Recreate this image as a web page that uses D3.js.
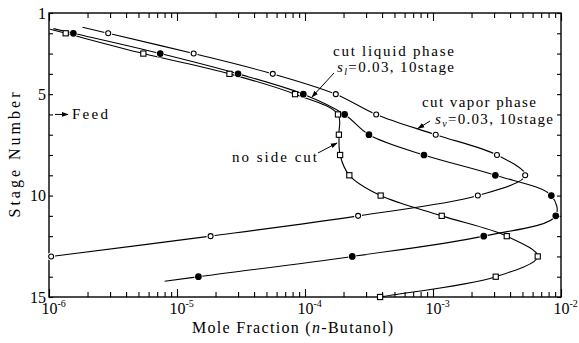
<!DOCTYPE html>
<html>
<head>
<meta charset="utf-8">
<script src="https://cdn.jsdelivr.net/npm/d3@7"></script>
<style>
  body { margin: 0; background: #fff; }
  svg { display: block; font-family: "Liberation Serif", "DejaVu Serif", serif; }
</style>
</head>
<body>
<div id="chart"></div>
<script>
// stage numbers and n-butanol mole fractions
let vapor_stage = [2, 3, 4, 5, 6, 7, 8, 9, 10, 11, 12, 13];
let vapor_x = [2.9e-6, 1.35e-5, 5.6e-5, 1.74e-4, 3.6e-4, 1.05e-3, 3.16e-3, 5.25e-3, 2.24e-3, 2.6e-4, 1.83e-5, 1.04e-6];

let liquid_stage = [2, 3, 4, 5, 6, 7, 8, 9, 10, 11, 12, 13, 14];
let liquid_x = [1.55e-6, 7.4e-6, 3.0e-5, 9.7e-5, 2.04e-4, 3.16e-4, 8.5e-4, 3.07e-3, 8.4e-3, 9.1e-3, 2.49e-3, 2.34e-4, 1.47e-5];

let nocut_stage = [2, 3, 4, 5, 6, 7, 8, 9, 10, 11, 12, 13, 14, 15];
let nocut_x = [1.35e-6, 5.46e-6, 2.57e-5, 8.36e-5, 1.81e-4, 1.84e-4, 1.88e-4, 2.22e-4, 3.9e-4, 1.17e-3, 3.77e-3, 6.58e-3, 3.09e-3, 3.86e-4];

let x_decades = [1e-6, 1e-5, 1e-4, 1e-3, 1e-2];
let y_labels = [1, 5, 10, 15];
let feed_stage = 6;

let width = 579;
let height = 343;
let m = {left: 49, right: 18, top: 13, bottom: 46};

let x = d3.scaleLog().domain([1e-6, 1e-2]).range([m.left, width - m.right]);
let y = d3.scaleLinear().domain([1, 15]).range([m.top, height - m.bottom]);

let svg = d3.select('#chart').append('svg')
            .attr('width', width)
            .attr('height', height);

svg.append('defs').append('clipPath').attr('id', 'plot')
    .append('rect')
        .attr('x', m.left).attr('y', m.top)
        .attr('width', width - m.left - m.right)
        .attr('height', height - m.top - m.bottom);

let arrow = svg.select('defs').append('marker')
            .attr('id', 'arrow')
            .attr('viewBox', '0 0 10 10')
            .attr('refX', 9).attr('refY', 5)
            .attr('markerWidth', 7).attr('markerHeight', 7)
            .attr('markerUnits', 'userSpaceOnUse')
            .attr('orient', 'auto');
arrow.append('path').attr('d', 'M0,1.5L10,5L0,8.5z').attr('fill', '#000');

// minor ticks for the log axis
let minors = [];
x_decades.slice(0, -1).forEach(d => {
    for (let k = 2; k < 10; k++) minors.push(d * k);
});
let stages = d3.range(1, 16);

let axis_style = g => {
    g.attr('font-family', null).attr('font-size', null);
    g.select('.domain').remove();
    g.selectAll('.tick line').attr('stroke', '#000').attr('stroke-width', 1.1);
};

// bottom & top
svg.append('g').attr('transform', `translate(0,${y(15)})`)
    .call(d3.axisBottom(x).tickValues(minors).tickSize(-5).tickFormat(''))
    .call(axis_style);
svg.append('g').attr('transform', `translate(0,${y(15)})`)
    .call(d3.axisBottom(x).tickValues(x_decades).tickSize(-8).tickPadding(3))
    .call(axis_style)
    .call(g => g.selectAll('.tick text').each(function(d) {
        let t = d3.select(this);
        t.text(null)
         .attr('fill', '#000')
         .attr('font-size', 16)
         .attr('text-anchor', 'start')
         .attr('x', -8)
         .attr('dy', '0.9em');
        t.append('tspan').text('10');
        t.append('tspan').attr('dy', -7).attr('font-size', 10).text(Math.round(Math.log10(d)));
    }));
svg.append('g').attr('transform', `translate(0,${y(1)})`)
    .call(d3.axisTop(x).tickValues(minors).tickSize(-5).tickFormat(''))
    .call(axis_style);
svg.append('g').attr('transform', `translate(0,${y(1)})`)
    .call(d3.axisTop(x).tickValues(x_decades).tickSize(-8).tickFormat(''))
    .call(axis_style);

// left & right
svg.append('g').attr('transform', `translate(${x(1e-6)},0)`)
    .call(d3.axisLeft(y).tickValues(stages).tickSize(-4).tickPadding(3)
            .tickFormat(d => y_labels.includes(d) ? d : ''))
    .call(axis_style)
    .call(g => g.selectAll('.tick text').attr('fill', '#000').attr('font-size', 16));
svg.append('g').attr('transform', `translate(${x(1e-2)},0)`)
    .call(d3.axisRight(y).tickValues(stages).tickSize(-4).tickFormat(''))
    .call(axis_style);

svg.append('rect')
    .attr('x', m.left).attr('y', m.top)
    .attr('width', width - m.left - m.right)
    .attr('height', height - m.top - m.bottom)
    .attr('fill', 'none').attr('stroke', '#000').attr('stroke-width', 1.4);

// series
let series = [
    {stage: vapor_stage, xs: vapor_x, mark: 'open', lead: 0.3, tail: 0},
    {stage: liquid_stage, xs: liquid_x, mark: 'filled', lead: 0.23, tail: 0.22},
    {stage: nocut_stage, xs: nocut_x, mark: 'square', lead: 0.2, tail: 0.3}
];

let line = d3.line().curve(d3.curveCatmullRom.alpha(0.5));

let extend = (a, b, f) => [a[0] + (a[0] - b[0]) * f, a[1] + (a[1] - b[1]) * f];

let plot = svg.append('g').attr('clip-path', 'url(#plot)');

series.forEach(s => {
    let pts = s.stage.map((st, i) => [x(s.xs[i]), y(st)]);
    let path_pts = pts.slice();
    if (s.lead) path_pts.unshift(extend(pts[0], pts[1], s.lead));
    if (s.tail) path_pts.push(extend(pts[pts.length - 1], pts[pts.length - 2], s.tail));
    plot.append('path')
        .attr('d', line(path_pts))
        .attr('fill', 'none')
        .attr('stroke', '#000')
        .attr('stroke-width', 1.1);
    s.pts = pts;
});

series.forEach(s => {
    let g = svg.append('g');
    if (s.mark === 'square') {
        g.selectAll('rect').data(s.pts).join('rect')
            .attr('x', d => d[0] - 2.6).attr('y', d => d[1] - 2.6)
            .attr('width', 5.2).attr('height', 5.2)
            .attr('fill', '#fff').attr('stroke', '#000').attr('stroke-width', 1.1);
    } else {
        g.selectAll('circle.halo').data(s.pts).join('circle')
            .attr('cx', d => d[0]).attr('cy', d => d[1]).attr('r', 4)
            .attr('fill', '#fff');
        g.selectAll('circle.dot').data(s.pts).join('circle')
            .attr('class', 'dot')
            .attr('cx', d => d[0]).attr('cy', d => d[1])
            .attr('r', s.mark === 'open' ? 2.5 : 2.8)
            .attr('fill', s.mark === 'open' ? '#fff' : '#000')
            .attr('stroke', '#000').attr('stroke-width', 1.1);
    }
});

// annotations
let note = (tx, ty, len) => svg.append('text')
            .attr('x', tx).attr('y', ty)
            .attr('font-size', 15)
            .attr('textLength', len)
            .attr('lengthAdjust', 'spacing');

note(333, 56, 121).text('cut liquid phase');
let t1 = note(337, 72, 117);
t1.append('tspan').attr('font-style', 'italic').text('s');
t1.append('tspan').attr('font-style', 'italic').attr('font-size', 10).attr('dy', 3).text('l');
t1.append('tspan').attr('dy', -3).text('=0.03, 10stage');

note(422, 107, 114).text('cut vapor phase');
let t2 = note(435, 124, 118);
t2.append('tspan').attr('font-style', 'italic').text('s');
t2.append('tspan').attr('font-style', 'italic').attr('font-size', 10).attr('dy', 3).text('v');
t2.append('tspan').attr('dy', -3).text('=0.03, 10stage');

note(232, 162, 85).text('no side cut');

let arrows = [
    [334, 73, 312, 97],
    [430, 121, 418, 128.5],
    [318, 153, 337, 143],
    [x(1e-6) + 6, y(feed_stage), x(1e-6) + 19, y(feed_stage)]
];
svg.selectAll('line.arrow').data(arrows).join('line')
    .attr('x1', d => d[0]).attr('y1', d => d[1])
    .attr('x2', d => d[2]).attr('y2', d => d[3])
    .attr('stroke', '#000').attr('stroke-width', 1)
    .attr('marker-end', 'url(#arrow)');

note(72, y(feed_stage) + 5, 36).text('Feed');

// axis titles
svg.append('text')
    .attr('transform', `translate(20,${(y(1) + y(15)) / 2}) rotate(-90)`)
    .attr('text-anchor', 'middle')
    .attr('font-size', 16)
    .attr('textLength', 125)
    .attr('lengthAdjust', 'spacing')
    .text('Stage Number');

let xt = svg.append('text')
    .attr('x', 192).attr('y', 333)
    .attr('font-size', 16)
    .attr('textLength', 201)
    .attr('lengthAdjust', 'spacing');
xt.append('tspan').text('Mole Fraction (');
xt.append('tspan').attr('font-style', 'italic').text('n');
xt.append('tspan').text('-Butanol)');
</script>
</body>
</html>
